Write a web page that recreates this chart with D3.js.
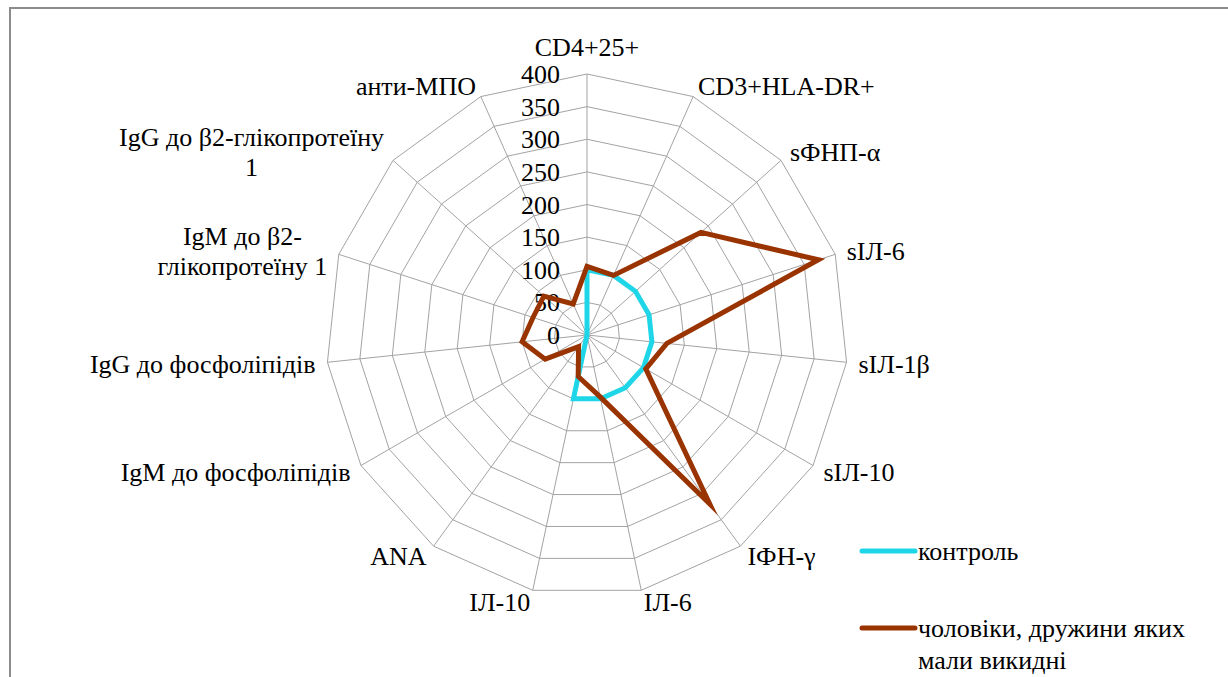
<!DOCTYPE html>
<html><head><meta charset="utf-8">
<script src="https://cdn.jsdelivr.net/npm/d3@7"></script>
<style>
html,body{margin:0;padding:0;background:#fff;}
svg{display:block;}
text{font-family:"Liberation Serif","Times New Roman",serif;fill:#000;}
</style></head>
<body>
<svg id="chart" width="1228" height="677"></svg>
<script>
const categories = ["CD4+25+", "CD3+HLA-DR+", "sФНП-α", "sІЛ-6", "sІЛ-1β", "sІЛ-10", "ІФН-γ", "ІЛ-6", "ІЛ-10", "ANA", "IgM до фосфоліпідів", "IgG до фосфоліпідів", "IgM до β2-глікопротеїну 1", "IgG до β2-глікопротеїну 1", "анти-МПО"];
const labelLines = [["CD4+25+"], ["CD3+HLA-DR+"], ["sФНП-α"], ["sІЛ-6"], ["sІЛ-1β"], ["sІЛ-10"], ["ІФН-γ"], ["ІЛ-6"], ["ІЛ-10"], ["ANA"], ["IgM до фосфоліпідів"], ["IgG до фосфоліпідів"], ["IgM до β2-", "глікопротеїну 1"], ["IgG до β2-глікопротеїну", "1"], ["анти-МПО"]];
const control = [100, 100, 100, 100, 100, 100, 100, 100, 100, 0, 0, 0, 0, 0, 0];
const men = [105, 100, 235, 373, 123, 104, 320, 97, 65, 22, 74, 100, 87, 89, 52];
const tickValues = [0, 50, 100, 150, 200, 250, 300, 350, 400];
const seriesNames = ["контроль", "чоловіки, дружини яких мали викидні"];
const legendLines = [["контроль"], ["чоловіки, дружини яких", "мали викидні"]];

const svg = d3.select("#chart");
const cx = 587, cy = 335, R = 261;
const fs = 26;
const colors = ["#1fd6e8", "#993300"];

// border
svg.append("rect").attr("x", 10).attr("y", 8).attr("width", 1240).attr("height", 700)
  .attr("fill", "none").attr("stroke", "#8c8c8c").attr("stroke-width", 2);

const r = d3.scaleLinear().domain([0, 400]).range([0, R]);
const angle = d3.scaleLinear().domain([0, categories.length]).range([0, 2 * Math.PI]);
const pt = (i, v) => [cx + r(v) * Math.sin(angle(i)), cy - r(v) * Math.cos(angle(i))];

const g = svg.append("g");
// rings
tickValues.filter(t => t > 0).forEach(t => {
  g.append("path")
    .attr("d", d3.line()(categories.map((c, i) => pt(i, t))) + "Z")
    .attr("fill", "none").attr("stroke", "#a3a3a3").attr("stroke-width", 1);
});
// spokes
categories.forEach((c, i) => {
  const p = pt(i, 400);
  g.append("line").attr("x1", cx).attr("y1", cy).attr("x2", p[0]).attr("y2", p[1])
    .attr("stroke", "#a3a3a3").attr("stroke-width", 1);
});
// tick labels
tickValues.forEach(t => {
  g.append("text").attr("x", cx - 27).attr("y", cy - r(t)).attr("dy", "0.35em")
    .attr("text-anchor", "end").attr("font-size", fs).text(t);
});

// series
const radial = d3.line();
[control, men].forEach((vals, si) => {
  const pts = vals.map((v, i) => pt(i, v));
  g.append("path").attr("d", radial(pts) + "Z")
    .attr("fill", "none").attr("stroke", colors[si]).attr("stroke-width", 5)
    .attr("stroke-linejoin", "miter").attr("stroke-miterlimit", 10);
});

// category labels
const lh = 30;
categories.forEach((c, i) => {
  const a = angle(i);
  const s = Math.sin(a), co = Math.cos(a);
  const rr = R + 12;
  const px = cx + rr * s, py = cy - rr * co;
  const lines = labelLines[i];
  const t = g.append("text").attr("font-size", fs);
  let anchor = Math.abs(s) < 0.05 ? "middle" : (s > 0 ? "start" : "end");
  let y0 = py;
  if (anchor === "middle") y0 = py - co * lh / 2;
  if (lines.length === 1) {
    t.attr("x", px).attr("y", y0).attr("dy", "0.35em").attr("text-anchor", anchor).text(lines[0]);
  } else {
    const spans = lines.map((ln, k) => t.append("tspan").attr("dy", "0.35em").text(ln));
    const widths = spans.map(sp => sp.node().getComputedTextLength());
    const mw = d3.max(widths);
    const mx = anchor === "end" ? px - mw / 2 : (anchor === "start" ? px + mw / 2 : px);
    const top = y0 - (lines.length - 1) * lh / 2;
    t.attr("text-anchor", "middle");
    spans.forEach((sp, k) => sp.attr("x", mx).attr("y", top + k * lh).attr("dy", "0.35em"));
  }
});

// legend
const lx = 862, ly = [551, 628];
seriesNames.forEach((n, si) => {
  svg.append("line").attr("x1", lx).attr("x2", lx + 53).attr("y1", ly[si]).attr("y2", ly[si])
    .attr("stroke", colors[si]).attr("stroke-width", 5).attr("stroke-linecap", "round");
  const t = svg.append("text").attr("font-size", fs);
  legendLines[si].forEach((ln, k) => {
    t.append("tspan").attr("x", lx + 56).attr("y", ly[si] + k * 32).attr("dy", "0.35em").text(ln);
  });
});
</script>
</body></html>
